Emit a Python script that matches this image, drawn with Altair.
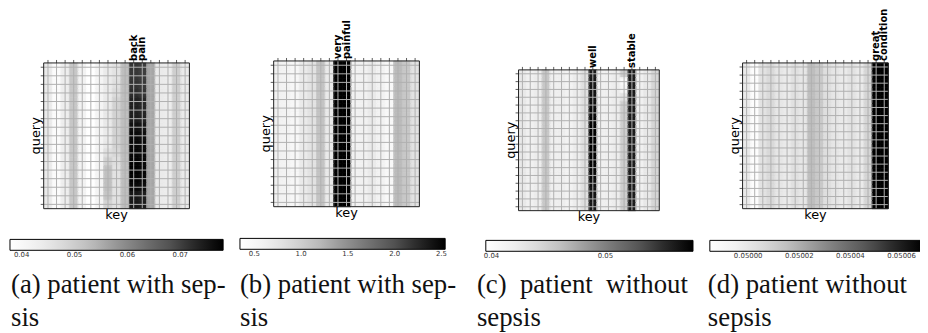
import altair as alt
import pandas as pd

# ---------------- data ----------------
# (a) patient with sepsis, 17 tokens
A_N = 17
A_LABELS = {10: "back", 11: "pain"}
A_BASE = [0.0442, 0.0390, 0.0434, 0.0511, 0.0420, 0.0378, 0.0414, 0.0442, 0.0459,
          0.0527, 0.0740, 0.0730, 0.0559, 0.0442, 0.0438, 0.0499, 0.0442]
A_COL7 = [0.0442, 0.0442, 0.0442, 0.0442, 0.0444, 0.0446, 0.0446, 0.0444, 0.0442,
          0.0446, 0.0465, 0.0495, 0.0523, 0.0523, 0.0523, 0.0515, 0.0490]
A_COL8 = [0.0459, 0.0459, 0.0465, 0.0475, 0.0491, 0.0491, 0.0491, 0.0491, 0.0491,
          0.0491, 0.0482, 0.0468, 0.0459, 0.0459, 0.0459, 0.0459, 0.0459]
A_COL10 = [0.0712, 0.0712, 0.0715, 0.0720, 0.0735, 0.0738, 0.0742, 0.0758, 0.0766,
           0.0770, 0.0772, 0.0775, 0.0778, 0.0775, 0.0768, 0.0750, 0.0748]
A_COL11 = [0.0704, 0.0704, 0.0707, 0.0712, 0.0728, 0.0730, 0.0735, 0.0752, 0.0760,
           0.0764, 0.0766, 0.0770, 0.0772, 0.0770, 0.0762, 0.0742, 0.0740]
A_DOMAIN = [0.0378, 0.0781]
A_TICKS = [0.04, 0.05, 0.06, 0.07]

# (b) patient with sepsis, 17 tokens
B_N = 17
B_LABELS = {7: "very", 8: "painful"}
B_BASE = [0.610, 0.577, 0.501, 0.698, 0.786, 1.115, 0.698, 2.540, 2.540,
          0.577, 0.610, 0.698, 0.577, 0.479, 1.180, 1.071, 0.786]
B_DOMAIN = [0.347, 2.540]
B_TICKS = [0.5, 1.0, 1.5, 2.0, 2.5]

# (c) patient without sepsis, 18 tokens
C_N = 18
C_LABELS = {9: "well", 14: "stable"}
C_BASE = [0.0426, 0.0417, 0.0422, 0.0455, 0.0419, 0.0420, 0.0414, 0.0422, 0.0435,
          0.0570, 0.0417, 0.0417, 0.0422, 0.0450, 0.0560, 0.0417, 0.0426, 0.0444]
C_COL9 = [0.0560, 0.0562, 0.0564, 0.0566, 0.0568, 0.0571, 0.0574, 0.0576, 0.0577,
          0.0577, 0.0577, 0.0576, 0.0574, 0.0571, 0.0568, 0.0566, 0.0564, 0.0562]
C_COL13 = [0.0450, 0.0404, 0.0410, 0.0431, 0.0450, 0.0450, 0.0450, 0.0450, 0.0450,
           0.0450, 0.0450, 0.0450, 0.0450, 0.0450, 0.0450, 0.0450, 0.0450, 0.0450]
C_DOMAIN = [0.0395, 0.0577]
C_TICKS = [0.04, 0.05]

# (d) patient without sepsis, 18 tokens
D_N = 18
D_LABELS = {16: "great", 17: "condition"}
D_BASE = [0.0499983, 0.0499867, 0.0500016, 0.0500058, 0.0500000, 0.0499983,
          0.0500024, 0.0500000, 0.0500157, 0.0500116, 0.0500033, 0.0500000,
          0.0499983, 0.0500016, 0.0499983, 0.0500074, 0.0500680, 0.0500680]
D_DOMAIN = [0.049985, 0.050068]
D_TICKS = [0.05, 0.05002, 0.05004, 0.05006]

GREYS = ["#ffffff", "#f0f0f0", "#d9d9d9", "#bdbdbd", "#969696",
         "#737373", "#525252", "#252525", "#000000"]

CAPTIONS = [
    ["(a) patient with sep-", "sis"],
    ["(b) patient with sep-", "sis"],
    ["(c)\u00a0\u00a0patient\u00a0\u00a0without", "sepsis"],
    ["(d)\u00a0patient\u00a0without", "sepsis"],
]

# ---------------- layout (page pixels) ----------------
OX, OY = 8, 8
W, H = 920, 325
GRID = "#b0b0b0"


def build(n, base, cols):
    rows = []
    for q in range(n):
        for k in range(n):
            v = cols[k][q] if k in cols else base[k]
            rows.append({"k": k, "k2": k + 1, "q": q, "q2": q + 1, "v": v})
    return pd.DataFrame(rows)


def cscale(dom):
    return alt.Scale(range=GREYS, domain=dom, nice=False, zero=False, interpolate="rgb")


def panel(n, cells, labels, dom, ticks, fmt, xr, yr, cb, cap, capx):
    xs = alt.Scale(domain=[0, n], range=[xr[0] - OX, xr[1] - OX], nice=False, zero=False)
    ys = alt.Scale(domain=[0, n], range=[yr[0] - OY, yr[1] - OY], nice=False, zero=False)
    heat = alt.Chart(cells).mark_rect().encode(
        x=alt.X("k:Q", scale=xs, axis=None), x2="k2",
        y=alt.Y("q:Q", scale=ys, axis=None), y2="q2",
        color=alt.Color("v:Q", scale=cscale(dom), legend=alt.Legend(
            type="gradient",
            orient="none", legendX=cb[0] - OX, legendY=cb[1] - OY,
            direction="horizontal", gradientLength=cb[2], gradientThickness=11,
            title=None, values=ticks, format=fmt, labelFontSize=7,
            labelFont="DejaVu Sans", labelColor="#333", labelOffset=1,
            labelOverlap=False, padding=0, gradientStrokeColor="black",
            gradientStrokeWidth=1, labelAlign="center")),
    )
    seams = alt.Chart(cells).mark_rect(filled=False, strokeWidth=0.8).encode(
        x="k:Q", x2="k2", y="q:Q", y2="q2",
        stroke=alt.Stroke("v:Q", scale=cscale(dom), legend=None),
    )
    grid = pd.DataFrame({"c": [i + 0.5 for i in range(n)], "a": [0] * n, "b": [n] * n})
    vlines = alt.Chart(grid).mark_rule(color=GRID, strokeWidth=1).encode(
        x="c:Q", y="a:Q", y2="b:Q")
    hlines = alt.Chart(grid).mark_rule(color=GRID, strokeWidth=1).encode(
        y="c:Q", x="a:Q", x2="b:Q")
    tticks = alt.Chart(grid).mark_rule(color="#333", strokeWidth=0.8).encode(
        x="c:Q", y="a:Q", y2=alt.value(yr[0] - OY - 3))
    lticks = alt.Chart(grid).mark_rule(color="#333", strokeWidth=0.8).encode(
        y="c:Q", x="a:Q", x2=alt.value(xr[0] - OX - 3))
    frame = alt.Chart(pd.DataFrame({"a": [0], "b": [n]})).mark_rect(
        filled=False, stroke="#222", strokeWidth=1).encode(
        x="a:Q", x2="b:Q", y="a:Q", y2="b:Q")
    lab = pd.DataFrame({"c": [k + 0.5 for k in labels], "a": [0] * len(labels),
                        "t": list(labels.values())})
    toks = alt.Chart(lab).mark_text(angle=270, align="left", baseline="middle", dx=2,
                                    font="DejaVu Sans", fontWeight="bold", fontSize=10,
                                    color="black").encode(
        x="c:Q", y="a:Q", text="t:N")
    mid = pd.DataFrame({"m": [n / 2], "a": [0], "b": [n]})
    qlab = alt.Chart(mid).mark_text(angle=270, align="center", baseline="alphabetic", dy=-4,
                                    font="DejaVu Sans", fontSize=13, text="query",
                                    color="black").encode(x="a:Q", y="m:Q")
    klab = alt.Chart(mid).mark_text(align="center", baseline="top", dy=0,
                                    font="DejaVu Sans", fontSize=13, text="key",
                                    color="black").encode(x="m:Q", y="b:Q")
    c1 = alt.Chart(pd.DataFrame({"t": [cap[0]]})).mark_text(
        align="left", baseline="alphabetic", font="Liberation Serif", fontSize=27,
        color="#111").encode(x=alt.value(capx - OX), y=alt.value(294 - OY), text="t:N")
    c2 = alt.Chart(pd.DataFrame({"t": [cap[1]]})).mark_text(
        align="left", baseline="alphabetic", font="Liberation Serif", fontSize=27,
        color="#111").encode(x=alt.value(capx - OX), y=alt.value(327 - OY), text="t:N")
    return alt.layer(heat, seams, vlines, hlines, tticks, lticks, frame, toks, qlab, klab,
                     c1, c2).resolve_legend(stroke="independent")


pa = panel(A_N, build(A_N, A_BASE, {7: A_COL7, 8: A_COL8, 10: A_COL10, 11: A_COL11}),
           A_LABELS, A_DOMAIN, A_TICKS, ".2f", (44, 191), (62, 209), (10, 240, 215),
           CAPTIONS[0], 11)
pb = panel(B_N, build(B_N, B_BASE, {}), B_LABELS, B_DOMAIN, B_TICKS, ".1f",
           (276, 423), (60, 207), (242, 239, 207), CAPTIONS[1], 242)
pc = panel(C_N, build(C_N, C_BASE, {9: C_COL9, 13: C_COL13}), C_LABELS, C_DOMAIN, C_TICKS,
           ".2f", (523, 665), (69, 211), (490, 241, 209), CAPTIONS[2], 481)
pd_ = panel(D_N, build(D_N, D_BASE, {}), D_LABELS, D_DOMAIN, D_TICKS, ".5f",
            (749, 896), (62, 209), (716, 241, 214), CAPTIONS[3], 714)

chart = alt.layer(pa, pb, pc, pd_).resolve_scale(
    x="independent", y="independent", color="independent", stroke="independent"
).resolve_legend(color="independent").properties(
    width=W, height=H, padding=0, autosize=alt.AutoSizeParams(type="none")
).configure_view(stroke="transparent")

chart.save("out.html", embed_options={"renderer": "svg", "actions": False})
